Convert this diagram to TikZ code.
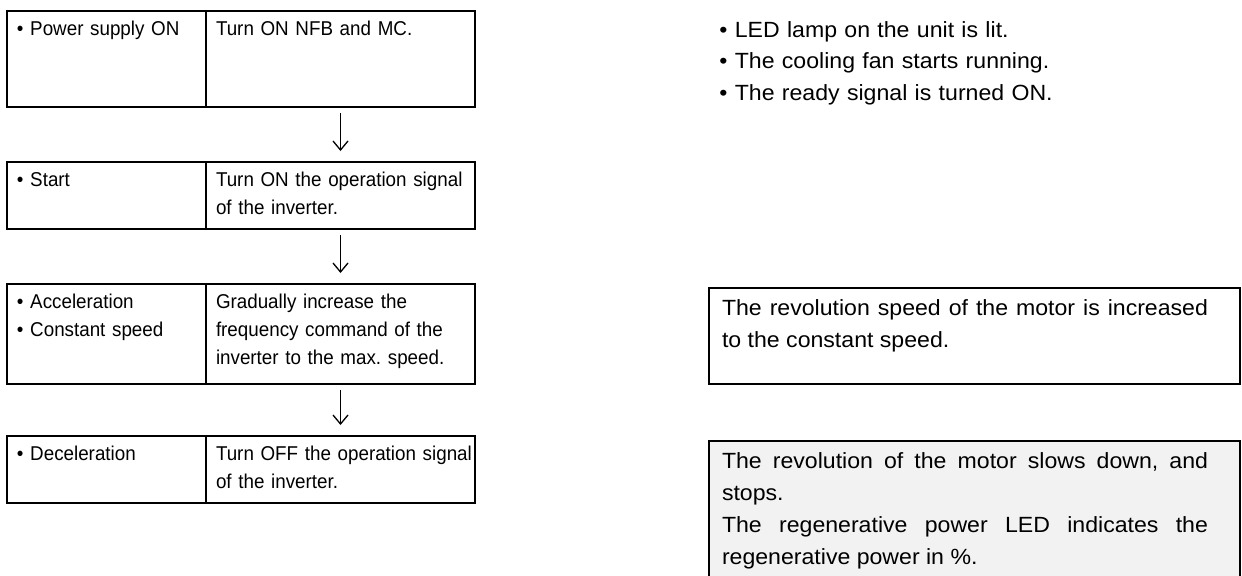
\documentclass[tikz,border=0pt]{standalone}
\usepackage{fontspec}
\setmainfont{Liberation Sans}
\newfontfamily\cellfont[FakeStretch=0.94]{Liberation Sans}
\newfontfamily\notefont[FakeStretch=1.05]{Liberation Sans}
\usetikzlibrary{arrows.meta,positioning}
\definecolor{notegray}{RGB}{242,242,242}
\frenchspacing

\begin{document}
\begin{tikzpicture}[x=0.5pt,y=-0.5pt,
	cell/.style={draw,line width=1pt,outer sep=0pt,anchor=north west,inner ysep=4pt,text height=8pt,text depth=#1,align=left,font=\cellfont\fontsize{10}{14}\selectfont},
	stage/.style={cell=#1,inner xsep=5pt,text width=89.5pt},
	action/.style={cell=#1,inner xsep=0pt,text width=134.5pt,
		execute at begin node={\hspace*{5pt}\begin{minipage}[t]{129.5pt}\raggedright},execute at end node={\end{minipage}}},
	note/.style={draw,line width=1pt,outer sep=0pt,anchor=north west,inner xsep=6.5pt,inner ysep=5pt,text width=252.5pt,align=justify,text height=8.5pt,text depth=#1,font=\notefont\fontsize{11}{16}\selectfont,
		execute at begin node={\begin{minipage}[t]{243pt}\rightskip=0pt\hyphenpenalty=10000\relax},execute at end node={\end{minipage}}}]
	
	\useasboundingbox (0,0) rectangle (1242,575);
	\clip (0,0) rectangle (1242,575);
	
	\node[stage=32pt] (pwr) at (7,11){\textbullet{} Power supply ON};
	\node[action=32pt] (pwrdo) at (pwr.north east){Turn ON NFB and MC.};
	\node[stage=17.5pt] (start) at (7,162){\textbullet{} Start};
	\node[action=17.5pt] (startdo) at (start.north east){Turn ON the operation signal\\of the inverter.};
	\node[stage=34pt] (accel) at (7,284){\textbullet{} Acceleration\\\textbullet{} Constant speed};
	\node[action=34pt] (acceldo) at (accel.north east){Gradually increase the\\frequency command of the\\inverter to the max. speed.};
	\node[stage=17.5pt] (decel) at (7,436){\textbullet{} Deceleration};
	\node[action=17.5pt] (deceldo) at (decel.north east){Turn OFF the operation signal\\of the inverter.};
	
	\node[anchor=base west,inner sep=0pt,text width=250pt,align=left,font=\notefont\fontsize{11}{15.75}\selectfont] (pwrnote) at (719,37){\textbullet{} LED lamp on the unit is lit.\\\textbullet{} The cooling fan starts running.\\\textbullet{} The ready signal is turned ON.};
	\node[note=29.5pt] (accelnote) at (709,288){The revolution speed of the motor is increased to the constant speed.};
	\node[note=61pt,fill=notegray] (decelnote) at (709,441){The revolution of the motor slows down, and stops.\par The regenerative power LED indicates the regenerative power in \%.};
	
	\begin{scope}[line width=0.65pt,-{Straight Barb[length=4.5pt,width=7.5pt]},shorten <=3pt,shorten >=5.5pt]
	%arrows
	\draw (pwrdo) -- (startdo);
	\draw (startdo) -- (acceldo);
	\draw (acceldo) -- (deceldo);
	\end{scope}
\end{tikzpicture}
\end{document}
